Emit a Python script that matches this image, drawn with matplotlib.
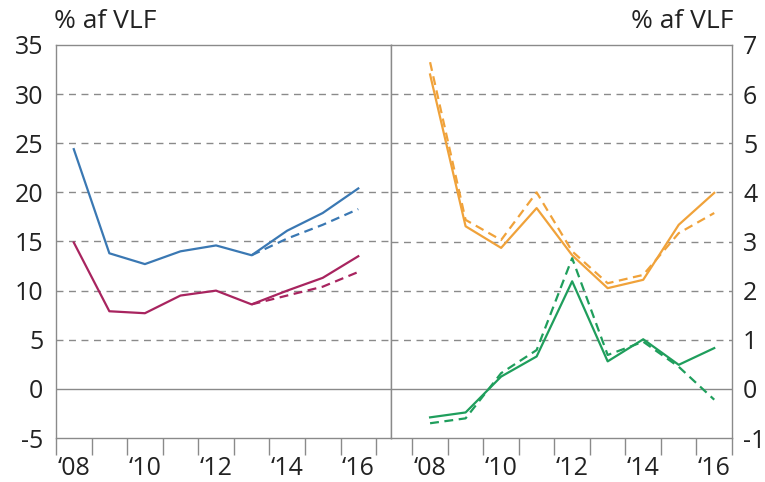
import matplotlib
matplotlib.use("Agg")
import matplotlib.pyplot as plt
import numpy as np

plt.rcParams['font.family'] = ['Open Sans', 'DejaVu Sans']

years = [2008, 2009, 2010, 2011, 2012, 2013, 2014, 2015, 2016]
year_labels = ["\u201808", "", "\u201810", "", "\u201812", "", "\u201814", "", "\u201816"]

# Left panel (% af VLF)
blue_solid = [24.4, 13.8, 12.7, 14.0, 14.6, 13.6, 16.1, 17.9, 20.4]
blue_dash_years = [2013, 2014, 2015, 2016]
blue_dash = [13.6, 15.3, 16.7, 18.3]
mag_solid = [14.9, 7.9, 7.7, 9.5, 10.0, 8.6, 10.0, 11.3, 13.5]
mag_dash_years = [2013, 2014, 2015, 2016]
mag_dash = [8.6, 9.5, 10.4, 11.9]

# Right panel (% af VLF)
orange_solid = [6.4, 3.31, 2.87, 3.68, 2.72, 2.05, 2.22, 3.34, 3.99]
orange_dash = [6.65, 3.44, 3.03, 4.0, 2.8, 2.15, 2.32, 3.17, 3.58]
green_solid = [-0.58, -0.48, 0.25, 0.66, 2.19, 0.56, 1.01, 0.49, 0.83]
green_dash = [-0.70, -0.60, 0.32, 0.79, 2.66, 0.69, 0.96, 0.45, -0.22]

left_ticks = [-5, 0, 5, 10, 15, 20, 25, 30, 35]
right_ticks = [-1, 0, 1, 2, 3, 4, 5, 6, 7]
unit_label = "% af VLF"

BLUE = "#3a78b3"
MAG = "#a8245f"
ORANGE = "#f0a23a"
GREEN = "#1f9e5c"
GRID = "#8a8a8a"
FRAME = "#8a8a8a"
TXT = "#222222"

fig = plt.figure(figsize=(7.65, 4.82), dpi=100)
bottom = 1 - 438 / 482
height = 393 / 482
axL = fig.add_axes([56 / 765, bottom, 335 / 765, height])
axR = fig.add_axes([391 / 765, bottom, 341 / 765, height])

x = np.array(years) + 0.5
lw = 1.6
FS = 18

def style(ax, ticks, xlim):
    ax.set_ylim(ticks[0], ticks[-1])
    ax.set_xlim(*xlim)
    for t in ticks[1:-1]:
        if t == 0:
            ax.axhline(0, color=GRID, lw=1.0, zorder=1)
        else:
            ax.axhline(t, color=GRID, lw=1.0, ls=(0, (5, 4)), zorder=1)
    for s in ax.spines.values():
        s.set_color(FRAME)
        s.set_linewidth(1.0)
    ax.set_yticks(ticks)
    ax.set_yticklabels([str(t) for t in ticks], fontsize=FS, color=TXT)
    ax.tick_params(axis='y', length=0, pad=9)
    major = list(range(2008, 2018))
    ax.set_xticks(major)
    ax.set_xticklabels([])
    ax.set_xticks(x, labels=year_labels, minor=True)
    ax.tick_params(axis='x', which='major', length=12, width=1.0, color=FRAME, direction='out')
    ax.tick_params(axis='x', which='minor', length=0, labelsize=FS, labelcolor=TXT, pad=13)

style(axL, left_ticks, (2008, 2017.42))
style(axR, right_ticks, (2007.4, 2017))

axL.plot(x, blue_solid, color=BLUE, lw=lw, zorder=3)
axL.plot(np.array(blue_dash_years) + 0.5, blue_dash, color=BLUE, lw=lw, ls=(0, (4, 2.5)), zorder=3)
axL.plot(x, mag_solid, color=MAG, lw=lw, zorder=3)
axL.plot(np.array(mag_dash_years) + 0.5, mag_dash, color=MAG, lw=lw, ls=(0, (4, 2.5)), zorder=3)

axR.plot(x, orange_solid, color=ORANGE, lw=lw, zorder=3)
axR.plot(x, orange_dash, color=ORANGE, lw=lw, ls=(0, (4, 2.5)), zorder=3)
axR.plot(x, green_solid, color=GREEN, lw=lw, zorder=3)
axR.plot(x, green_dash, color=GREEN, lw=lw, ls=(0, (4, 2.5)), zorder=3)

axR.yaxis.tick_right()
axR.tick_params(axis='y', pad=8)

fig.text(54 / 765, 1 - 22 / 482, unit_label, fontsize=19, color=TXT, ha='left', va='center')
fig.text(733 / 765, 1 - 22 / 482, unit_label, fontsize=19, color=TXT, ha='right', va='center')

fig.savefig("out.png", dpi=100)
